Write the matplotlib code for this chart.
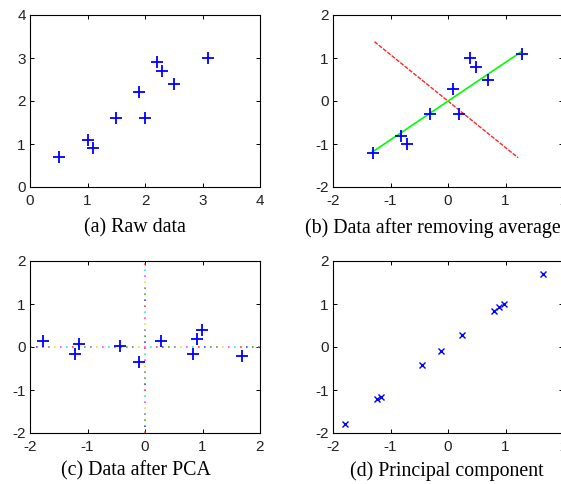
import matplotlib
matplotlib.use("Agg")
import matplotlib.pyplot as plt

# raw data (a)
raw_x = [2.5, 0.5, 2.2, 1.9, 3.1, 2.3, 2.0, 1.0, 1.5, 1.1]
raw_y = [2.4, 0.7, 2.9, 2.2, 3.0, 2.7, 1.6, 1.1, 1.6, 0.9]

# mean removed (b)
adj_x = [0.69, -1.31, 0.39, 0.09, 1.29, 0.49, 0.19, -0.81, -0.31, -0.71]
adj_y = [0.49, -1.21, 0.99, 0.29, 1.09, 0.79, -0.31, -0.81, -0.31, -1.01]
green_x = [-1.33, 1.28]
green_y = [-1.20, 1.15]
red_x = [-1.28, 1.22]
red_y = [1.38, -1.32]

# after PCA (c)
pca_x = [0.83, -1.78, 0.99, 0.27, 1.68, 0.91, -0.10, -1.14, -0.44, -1.22]
pca_y = [-0.17, 0.15, 0.39, 0.13, -0.20, 0.18, -0.34, 0.06, 0.02, -0.16]

# principal component (d)
pc_x = [0.80, -1.80, 0.97, 0.25, 1.65, 0.88, -0.12, -1.16, -0.45, -1.23]
pc_y = [0.84, -1.80, 1.00, 0.28, 1.70, 0.92, -0.09, -1.16, -0.43, -1.21]

captions = ["(a) Raw data", "(b) Data after removing average",
            "(c) Data after PCA", "(d) Principal component"]
dot_colors = ["#ff4040", "#40e0e0", "#ff40ff", "#e0e040", "#808080", "#40b040", "#4040ff"]

plt.rcParams['font.family'] = ['Liberation Sans', 'DejaVu Sans']
plt.rcParams['axes.unicode_minus'] = False

W, H = 561, 484
fig = plt.figure(figsize=(W / 100, H / 100), dpi=100)

def box(l, t, w=230, h=172):
    return [l / W, 1 - (t + h) / H, w / W, h / H]

def style(ax, lo, hi):
    ax.set_xlim(lo, hi)
    ax.set_ylim(lo, hi)
    ax.set_xticks(range(lo, hi + 1))
    ax.set_yticks(range(lo, hi + 1))
    ax.tick_params(direction='in', length=3, width=0.7, top=True, right=True,
                   labelsize=11, colors='black', labelcolor='#222222')
    ax.tick_params(axis='x', pad=5)
    ax.tick_params(axis='y', pad=3)
    for s in ax.spines.values():
        s.set_linewidth(0.8)

blue = '#0000ff'

ax1 = fig.add_axes(box(30, 15))
ax1.plot(raw_x, raw_y, '+', color=blue, ms=9, mew=1.3)
style(ax1, 0, 4)

ax2 = fig.add_axes(box(333, 15))
ax2.plot(red_x, red_y, color='red', lw=1, ls=(0, (3, 1)), alpha=0.85)
ax2.plot(green_x, green_y, color='#00ff00', lw=1.2)
ax2.plot(adj_x, adj_y, '+', color=blue, ms=9, mew=1.3)
style(ax2, -2, 2)

ax3 = fig.add_axes(box(30, 261))
n = len(dot_colors)
for i, c in enumerate(dot_colors):
    ax3.axhline(0, color=c, lw=1.2, ls=(i * 3.6, (1, 3.6 * n - 1)))
    ax3.axvline(0, color=c, lw=1.2, ls=(i * 3.6, (1, 3.6 * n - 1)))
ax3.plot(pca_x, pca_y, '+', color=blue, ms=9, mew=1.3)
style(ax3, -2, 2)

ax4 = fig.add_axes(box(333, 261))
ax4.plot(pc_x, pc_y, 'x', color=blue, ms=4, mew=1)
style(ax4, -2, 2)

cap_pos = [(135, 228), (433, 228), (136, 471), (447, 471)]
for txt, (cx, cy) in zip(captions, cap_pos):
    fig.text(cx / W, 1 - cy / H, txt, ha='center', va='center',
             fontsize=14.3, family='Liberation Serif')

fig.savefig("out.png", dpi=100)
